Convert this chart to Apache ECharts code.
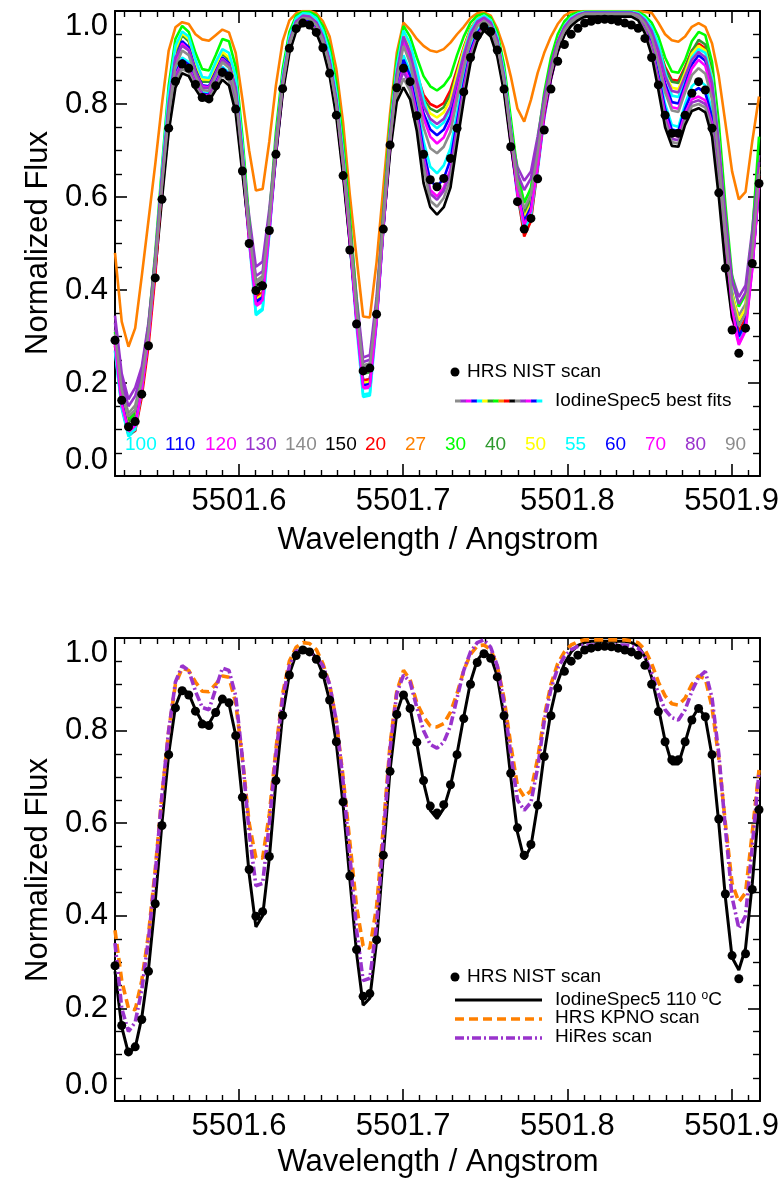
<!DOCTYPE html>
<html>
<head>
<meta charset="utf-8">
<script src="https://cdn.jsdelivr.net/npm/echarts@6/dist/echarts.min.js"></script>
<style>
html,body{margin:0;padding:0;background:#fff;}
#chart{width:782px;height:1186px;}
</style>
</head>
<body>
<div id="chart"></div>
<script>
// ---------------- DATA ----------------
const wavelength = [
5501.5245,5501.5286,5501.5327,5501.5368,5501.5408,5501.5449,5501.5490,5501.5531,5501.5572,5501.5613,
5501.5654,5501.5694,5501.5735,5501.5776,5501.5817,5501.5858,5501.5899,5501.5939,5501.5980,5501.6021,
5501.6062,5501.6103,5501.6144,5501.6185,5501.6225,5501.6266,5501.6307,5501.6348,5501.6389,5501.6430,
5501.6471,5501.6511,5501.6552,5501.6593,5501.6634,5501.6675,5501.6716,5501.6756,5501.6797,5501.6838,
5501.6879,5501.6920,5501.6961,5501.7002,5501.7042,5501.7083,5501.7124,5501.7165,5501.7206,5501.7247,
5501.7288,5501.7328,5501.7369,5501.7410,5501.7451,5501.7492,5501.7533,5501.7573,5501.7614,5501.7655,
5501.7696,5501.7737,5501.7778,5501.7819,5501.7859,5501.7900,5501.7941,5501.7982,5501.8023,5501.8064,
5501.8105,5501.8145,5501.8186,5501.8227,5501.8268,5501.8309,5501.8350,5501.8390,5501.8431,5501.8472,
5501.8513,5501.8554,5501.8595,5501.8636,5501.8676,5501.8717,5501.8758,5501.8799,5501.8840,5501.8881,
5501.8922,5501.8962,5501.9003,5501.9044,5501.9085,5501.9126,5501.9167];

const nistScan = [
.292,.163,.106,.117,.176,.280,.426,.595,.748,.849,
.886,.877,.842,.814,.811,.839,.868,.860,.789,.656,
.500,.399,.409,.528,.692,.833,.920,.962,.974,.970,
.954,.921,.866,.776,.646,.486,.327,.226,.232,.348,
.531,.712,.835,.877,.848,.775,.692,.637,.622,.640,
.683,.748,.826,.900,.947,.966,.956,.916,.832,.708,
.590,.531,.554,.639,.744,.832,.892,.928,.950,.963,
.974,.978,.981,.982,.981,.978,.974,.970,.963,.941,
.900,.841,.776,.737,.737,.776,.823,.848,.830,.748,
.609,.447,.314,.264,.318,.457,.629];

const fit100 = [
.268,.145,.085,.098,.182,.295,.45,.62,.77,.87,
.90,.89,.852,.825,.823,.85,.88,.868,.81,.672,
.505,.346,.357,.52,.69,.832,.922,.968,.982,.979,
.965,.932,.875,.788,.66,.50,.322,.17,.173,.33,
.53,.71,.84,.905,.87,.80,.72,.665,.651,.668,
.705,.78,.858,.922,.958,.973,.961,.92,.842,.722,
.60,.525,.555,.655,.77,.855,.916,.953,.974,.986,
.993,.993,.993,.993,.993,.993,.993,.993,.987,.968,
.933,.87,.80,.755,.751,.80,.838,.852,.84,.785,
.655,.495,.345,.292,.322,.452,.628];
const fit110 = [
.288,.158,.10,.11,.188,.298,.45,.615,.765,.865,
.895,.885,.848,.822,.82,.847,.877,.864,.805,.668,
.51,.372,.382,.528,.692,.83,.92,.966,.98,.977,
.963,.93,.873,.786,.658,.505,.335,.205,.208,.335,
.532,.708,.835,.895,.86,.79,.70,.635,.622,.64,
.68,.762,.845,.915,.953,.97,.958,.917,.839,.72,
.608,.545,.575,.665,.775,.856,.915,.952,.973,.985,
.992,.992,.992,.992,.992,.992,.992,.992,.986,.965,
.928,.862,.79,.745,.742,.79,.825,.834,.824,.772,
.645,.49,.35,.298,.328,.458,.632];
const fit120 = [
.283,.153,.095,.106,.185,.295,.448,.61,.76,.86,
.89,.88,.845,.82,.818,.843,.872,.86,.80,.665,
.505,.365,.375,.525,.69,.828,.918,.964,.978,.975,
.96,.927,.87,.782,.655,.502,.33,.188,.19,.332,
.53,.705,.828,.88,.848,.778,.685,.615,.601,.62,
.66,.748,.835,.908,.948,.967,.955,.913,.835,.716,
.604,.536,.566,.66,.772,.853,.913,.95,.972,.984,
.991,.991,.991,.991,.991,.991,.991,.991,.985,.962,
.922,.853,.778,.733,.73,.78,.81,.816,.808,.758,
.632,.48,.34,.282,.312,.445,.622];
const fit130 = [
.345,.22,.165,.19,.235,.33,.47,.625,.765,.858,
.885,.876,.842,.818,.816,.84,.87,.858,.80,.675,
.56,.45,.461,.575,.71,.838,.92,.964,.977,.974,
.96,.927,.872,.79,.67,.54,.385,.255,.26,.385,
.57,.72,.83,.87,.84,.77,.678,.607,.594,.613,
.652,.742,.83,.904,.946,.965,.953,.913,.838,.735,
.665,.635,.655,.73,.815,.88,.93,.96,.976,.986,
.991,.991,.991,.991,.991,.991,.991,.991,.984,.96,
.918,.848,.77,.725,.722,.772,.803,.808,.80,.752,
.632,.50,.43,.385,.41,.53,.69];
const fit140 = [
.315,.19,.135,.152,.21,.31,.45,.605,.75,.848,
.875,.868,.838,.815,.812,.836,.862,.85,.792,.66,
.53,.42,.43,.55,.70,.83,.915,.96,.975,.971,
.956,.922,.866,.782,.66,.52,.36,.238,.242,.36,
.55,.708,.818,.855,.828,.758,.665,.592,.579,.598,
.638,.73,.82,.897,.94,.962,.95,.908,.832,.722,
.635,.59,.615,.70,.795,.865,.92,.953,.972,.983,
.99,.99,.99,.99,.99,.99,.99,.99,.982,.956,
.912,.84,.762,.718,.715,.765,.795,.80,.792,.742,
.62,.475,.385,.345,.37,.50,.66];
const fit150 = [
.30,.18,.125,.135,.20,.30,.44,.595,.74,.835,
.866,.86,.832,.81,.806,.83,.852,.84,.78,.65,
.52,.41,.418,.54,.69,.822,.91,.956,.972,.968,
.952,.918,.86,.772,.645,.50,.345,.228,.23,.35,
.535,.695,.805,.836,.81,.742,.63,.578,.562,.578,
.62,.715,.808,.888,.934,.958,.945,.902,.825,.712,
.615,.565,.59,.68,.78,.855,.912,.948,.968,.98,
.988,.988,.988,.988,.988,.988,.988,.988,.98,.952,
.905,.83,.75,.71,.708,.755,.785,.791,.782,.73,
.60,.45,.34,.30,.325,.455,.62];
const fit20 = [
.28,.15,.09,.097,.17,.28,.43,.63,.80,.912,
.95,.937,.885,.85,.85,.878,.91,.897,.845,.695,
.515,.385,.395,.535,.71,.85,.94,.982,.993,.992,
.981,.952,.90,.812,.68,.515,.34,.206,.208,.34,
.54,.73,.87,.952,.92,.865,.82,.80,.793,.802,
.83,.875,.922,.962,.983,.99,.979,.943,.865,.742,
.61,.515,.548,.665,.785,.872,.932,.966,.985,.993,
.997,.997,.997,.997,.997,.997,.997,.997,.994,.983,
.962,.925,.88,.852,.85,.88,.915,.93,.92,.862,
.72,.54,.375,.31,.34,.47,.645];
const fit27 = [
.48,.332,.278,.318,.43,.55,.67,.80,.915,.965,
.976,.972,.95,.939,.936,.948,.96,.954,.91,.81,
.70,.614,.617,.72,.84,.935,.98,.995,1.0,1.0,
.995,.978,.945,.875,.76,.605,.47,.343,.341,.46,
.62,.78,.91,.975,.96,.94,.925,.915,.912,.918,
.932,.95,.966,.985,.995,.997,.99,.962,.92,.86,
.79,.762,.809,.867,.91,.945,.972,.99,.998,.999,
1.0,1.0,1.0,1.0,1.0,1.0,1.0,1.0,1.0,.998,
.996,.975,.95,.937,.934,.945,.966,.974,.966,.93,
.86,.76,.655,.595,.611,.72,.816];
const fit30 = [
.31,.18,.12,.135,.215,.325,.48,.665,.84,.94,
.968,.955,.91,.875,.872,.905,.94,.935,.88,.73,
.55,.40,.41,.56,.74,.875,.955,.99,.998,.998,
.99,.968,.925,.845,.72,.56,.38,.225,.228,.37,
.57,.76,.895,.968,.945,.90,.86,.838,.829,.84,
.86,.905,.945,.975,.99,.994,.986,.955,.885,.77,
.655,.587,.62,.72,.825,.90,.95,.978,.992,.997,
.999,.999,.999,.999,.999,.999,.999,.999,.998,.99,
.975,.945,.90,.87,.867,.895,.935,.955,.948,.89,
.76,.585,.43,.364,.39,.52,.73];
const fit40 = [
.30,.175,.115,.128,.205,.315,.465,.64,.805,.91,
.948,.935,.885,.848,.848,.876,.908,.895,.845,.70,
.525,.395,.405,.545,.715,.852,.94,.982,.993,.992,
.981,.952,.90,.815,.685,.525,.355,.22,.223,.35,
.55,.735,.87,.95,.918,.862,.81,.79,.783,.793,
.82,.868,.918,.96,.982,.989,.979,.943,.866,.745,
.625,.565,.595,.69,.80,.88,.935,.967,.985,.993,
.997,.997,.997,.997,.997,.997,.997,.997,.994,.983,
.962,.925,.875,.848,.845,.876,.913,.938,.928,.868,
.73,.555,.395,.33,.358,.49,.665];
const fit50 = [
.295,.165,.105,.118,.195,.305,.46,.645,.815,.918,
.952,.94,.89,.853,.852,.883,.912,.90,.852,.705,
.525,.38,.39,.54,.715,.855,.942,.983,.994,.993,
.982,.955,.905,.82,.69,.525,.345,.20,.203,.345,
.545,.735,.875,.955,.925,.868,.805,.78,.771,.782,
.81,.865,.918,.96,.983,.99,.98,.944,.868,.748,
.625,.555,.585,.68,.795,.878,.935,.968,.986,.994,
.998,.998,.998,.998,.998,.998,.998,.998,.995,.984,
.963,.925,.865,.835,.832,.868,.908,.925,.915,.858,
.722,.545,.39,.335,.36,.49,.665];
const fit55 = [
.27,.148,.088,.10,.185,.30,.46,.655,.825,.925,
.956,.945,.895,.858,.856,.89,.918,.91,.86,.71,
.525,.35,.36,.53,.715,.86,.945,.985,.995,.994,
.984,.958,.91,.825,.695,.525,.34,.175,.178,.34,
.54,.74,.88,.958,.93,.875,.81,.76,.748,.76,
.79,.85,.91,.958,.982,.99,.98,.945,.87,.75,
.615,.53,.56,.67,.79,.875,.935,.968,.986,.994,
.998,.998,.998,.998,.998,.998,.998,.998,.995,.985,
.965,.93,.87,.818,.815,.855,.90,.918,.91,.855,
.72,.54,.38,.295,.325,.455,.63];
const fit60 = [
.29,.16,.10,.112,.19,.30,.455,.635,.79,.895,
.935,.922,.872,.84,.838,.868,.90,.888,.83,.69,
.52,.375,.385,.535,.705,.845,.932,.976,.988,.986,
.974,.943,.89,.805,.675,.515,.34,.195,.198,.34,
.54,.725,.86,.94,.905,.84,.78,.745,.733,.745,
.775,.835,.895,.946,.974,.984,.973,.935,.856,.738,
.62,.548,.578,.675,.79,.87,.928,.962,.981,.991,
.996,.996,.996,.996,.996,.996,.996,.996,.992,.978,
.953,.905,.845,.804,.801,.842,.885,.905,.893,.835,
.70,.53,.37,.30,.33,.46,.635];
const fit70 = [
.285,.155,.097,.108,.186,.296,.45,.63,.785,.89,
.93,.917,.868,.838,.836,.865,.897,.884,.825,.685,
.515,.368,.378,.53,.70,.84,.93,.975,.987,.985,
.972,.94,.886,.80,.67,.51,.335,.19,.193,.335,
.535,.72,.855,.935,.898,.832,.77,.73,.715,.728,
.76,.825,.888,.942,.971,.982,.97,.932,.852,.733,
.612,.54,.57,.67,.785,.865,.925,.96,.98,.99,
.995,.995,.995,.995,.995,.995,.995,.995,.991,.976,
.948,.898,.835,.793,.79,.834,.876,.895,.882,.825,
.69,.52,.36,.285,.315,.447,.625];
const fit80 = [
.33,.205,.15,.172,.225,.325,.47,.645,.80,.90,
.925,.915,.87,.835,.834,.865,.895,.885,.835,.695,
.54,.43,.44,.56,.72,.85,.935,.978,.99,.988,
.976,.946,.893,.81,.685,.535,.37,.245,.25,.37,
.56,.735,.865,.945,.91,.85,.795,.768,.757,.768,
.795,.85,.905,.952,.977,.986,.975,.938,.86,.745,
.65,.615,.64,.72,.815,.885,.935,.966,.983,.992,
.996,.996,.996,.996,.996,.996,.996,.996,.993,.98,
.957,.915,.86,.828,.825,.86,.895,.912,.90,.845,
.715,.56,.42,.37,.395,.515,.675];
const fit90 = [
.305,.185,.128,.142,.205,.31,.455,.625,.78,.88,
.915,.905,.86,.83,.828,.858,.89,.878,.82,.68,
.525,.415,.425,.55,.705,.84,.928,.972,.985,.983,
.97,.937,.882,.798,.672,.525,.36,.232,.236,.36,
.55,.72,.85,.925,.888,.82,.75,.705,.694,.708,
.74,.81,.878,.936,.967,.979,.967,.928,.85,.735,
.63,.575,.605,.695,.795,.868,.925,.958,.978,.988,
.994,.994,.994,.994,.994,.994,.994,.994,.99,.973,
.943,.888,.825,.786,.783,.825,.862,.877,.865,.81,
.68,.525,.38,.322,.35,.48,.65];

const spec110 = [
.28,.16,.103,.115,.18,.285,.43,.60,.75,.852,
.891,.88,.845,.818,.815,.84,.868,.858,.79,.65,
.49,.376,.40,.525,.69,.835,.922,.965,.978,.974,
.957,.922,.865,.772,.64,.48,.32,.207,.222,.345,
.53,.715,.838,.882,.85,.772,.688,.628,.61,.632,
.68,.75,.83,.905,.952,.97,.96,.918,.83,.70,
.58,.522,.55,.64,.75,.842,.905,.945,.97,.984,
.99,.993,.993,.993,.993,.993,.993,.99,.983,.96,
.915,.85,.778,.728,.728,.775,.825,.85,.828,.745,
.60,.44,.31,.283,.33,.47,.64];
const kpnoScan = [
.369,.26,.20,.197,.26,.36,.50,.66,.80,.90,
.935,.93,.905,.885,.884,.90,.918,.915,.86,.74,
.60,.525,.525,.62,.76,.88,.95,.98,.99,.988,
.975,.945,.90,.82,.70,.56,.42,.335,.33,.42,
.59,.77,.885,.93,.91,.86,.83,.81,.808,.815,
.84,.88,.93,.965,.983,.985,.975,.94,.87,.77,
.68,.657,.67,.74,.83,.90,.945,.97,.985,.992,
.996,.996,.996,.996,.996,.996,.996,.994,.99,.975,
.945,.905,.875,.858,.855,.87,.90,.918,.912,.85,
.74,.60,.47,.43,.45,.58,.715];
const hiresScan = [
.341,.20,.15,.17,.24,.35,.49,.66,.80,.905,
.94,.93,.885,.85,.845,.89,.935,.93,.875,.74,
.58,.465,.47,.60,.75,.87,.94,.972,.975,.97,
.96,.94,.90,.82,.69,.53,.37,.26,.265,.38,
.57,.76,.88,.92,.905,.85,.80,.77,.762,.775,
.81,.87,.93,.97,.99,.996,.98,.94,.86,.75,
.65,.628,.645,.72,.82,.89,.935,.96,.975,.982,
.985,.985,.985,.985,.985,.985,.985,.983,.978,.96,
.925,.88,.845,.828,.823,.845,.885,.915,.928,.87,
.75,.59,.44,.373,.40,.55,.71];

const fitLabels = ['100','110','120','130','140','150','20','27','30','40','50','55','60','70','80','90'];
const xTickValues = [5501.6, 5501.7, 5501.8, 5501.9];
const xMinorTickValues = [5501.53,5501.54,5501.55,5501.56,5501.57,5501.58,5501.59,
  5501.61,5501.62,5501.63,5501.64,5501.65,5501.66,5501.67,5501.68,5501.69,
  5501.71,5501.72,5501.73,5501.74,5501.75,5501.76,5501.77,5501.78,5501.79,
  5501.81,5501.82,5501.83,5501.84,5501.85,5501.86,5501.87,5501.88,5501.89,5501.91];

// ---------------- STYLE ----------------
const FONT = '"Liberation Sans", Arial, Helvetica, sans-serif';
const fitArrays = [fit100,fit110,fit120,fit130,fit140,fit150,fit20,fit27,fit30,fit40,fit50,fit55,fit60,fit70,fit80,fit90];
const CYAN='#00FFFF', BLUE='#0000FF', MAG='#FF00FF', PURP='#9933CC', GRAY='#8C8C8C', BLK='#000000',
      RED='#FF0000', ORNG='#FF8000', GRN='#00FF00', DGRN='#2E9A2E', YEL='#FFFF00';
const fitColors = [CYAN,BLUE,MAG,PURP,GRAY,BLK,RED,ORNG,GRN,DGRN,YEL,CYAN,BLUE,MAG,PURP,GRAY];

const X_MIN = 5501.5245, X_MAX = 5501.9173;
const pairs = arr => wavelength.map((w,i) => [w, arr[i]]);

const grids = [
  {left:115, top:11, width:646, height:465},
  {left:115, top:638, width:646, height:463}
];

function xAxesFor(g){
  const base = {gridIndex:g, type:'value', min:X_MIN, max:X_MAX, splitLine:{show:false}};
  const line = {show:true, onZero:false, lineStyle:{color:'#000', width:2}};
  return [
    Object.assign({}, base, {position:'bottom', axisLine:line,
      axisTick:{show:true, inside:true, length:12, customValues:xTickValues, lineStyle:{color:'#000', width:1.6}},
      axisLabel:{show:true, customValues:xTickValues, formatter:v=>Number(v).toFixed(1), fontSize:31, color:'#000', fontFamily:FONT, margin:10}}),
    Object.assign({}, base, {position:'bottom', axisLine:{show:false, onZero:false},
      axisTick:{show:true, inside:true, length:6, customValues:xMinorTickValues, lineStyle:{color:'#000', width:1.4}},
      axisLabel:{show:false}}),
    Object.assign({}, base, {position:'top', axisLine:line,
      axisTick:{show:true, inside:true, length:12, customValues:xTickValues, lineStyle:{color:'#000', width:1.6}},
      axisLabel:{show:false}}),
    Object.assign({}, base, {position:'top', axisLine:{show:false, onZero:false},
      axisTick:{show:true, inside:true, length:6, customValues:xMinorTickValues, lineStyle:{color:'#000', width:1.4}},
      axisLabel:{show:false}})
  ];
}
function yAxesFor(g){
  const base = {gridIndex:g, type:'value', min:0, max:1, interval:0.2, splitLine:{show:false},
    axisLine:{show:true, onZero:false, lineStyle:{color:'#000', width:2}},
    axisTick:{show:true, inside:true, length:12, lineStyle:{color:'#000', width:1.6}},
    minorTick:{show:true, splitNumber:4, length:7, lineStyle:{color:'#000', width:1.4}}};
  return [
    Object.assign({}, base, {position:'left',
      axisLabel:{show:true, formatter:v=>Number(v).toFixed(1), fontSize:31, color:'#000', fontFamily:FONT, margin:7,
        verticalAlignMinLabel:'bottom', verticalAlignMaxLabel:'top'}}),
    Object.assign({}, base, {position:'right', axisLabel:{show:false}})
  ];
}

const series = [];
fitArrays.forEach((arr, k) => {
  series.push({name:'fit'+fitLabels[k], type:'line', xAxisIndex:0, yAxisIndex:0, data:pairs(arr),
    symbol:'none', showSymbol:false, animation:false, z:2,
    lineStyle:{color:fitColors[k], width:2.6}, itemStyle:{color:fitColors[k]}});
});
series.push({name:'HRS NIST scan', type:'scatter', xAxisIndex:0, yAxisIndex:0, data:pairs(nistScan),
  symbol:'circle', symbolSize:9, itemStyle:{color:'#000', opacity:1}, animation:false, z:5});

series.push({name:'HRS NIST scan (2)', type:'scatter', xAxisIndex:4, yAxisIndex:2, data:pairs(nistScan),
  symbol:'circle', symbolSize:9, itemStyle:{color:'#000', opacity:1}, animation:false, z:5});
series.push({name:'IodineSpec5 110', type:'line', xAxisIndex:4, yAxisIndex:2, data:pairs(spec110),
  symbol:'none', animation:false, z:3, lineStyle:{color:'#000', width:3}});
series.push({name:'HRS KPNO scan', type:'line', xAxisIndex:4, yAxisIndex:2, data:pairs(kpnoScan),
  symbol:'none', animation:false, z:3, lineStyle:{color:ORNG, width:3.6, type:[9,5]}});
series.push({name:'HiRes scan', type:'line', xAxisIndex:4, yAxisIndex:2, data:pairs(hiresScan),
  symbol:'none', animation:false, z:4, lineStyle:{color:PURP, width:3.6, type:[9,3,2,3]}});

// ---------------- GRAPHIC (titles, legends, labels) ----------------
const graphics = [];
function txt(x, y, s, size, color, opts){
  const baseStyle = {text:s, fill:color||'#000', font:size+'px '+FONT, fontSize:size, fontFamily:FONT,
      textAlign:'left', align:'left', textVerticalAlign:'middle', verticalAlign:'middle'};
  const o = Object.assign({type:'text', x:x, y:y, z:50, silent:true}, opts||{});
  o.style = Object.assign(baseStyle, (opts && opts.style) || {});
  graphics.push(o);
}
// axis titles
[243, 870].forEach(cy => txt(38, cy, 'Normalized Flux', 31, '#000', {rotation:Math.PI/2, style:{textAlign:'center', align:'center'}}));
[540, 1162].forEach(cy => txt(438, cy, 'Wavelength / Angstrom', 31, '#000', {style:{textAlign:'center', align:'center'}}));

// temperature labels
fitLabels.forEach((lab, k) => txt(125 + 40*k, 445, lab, 19, fitColors[k]));

// top legend
graphics.push({type:'circle', z:50, silent:true, shape:{cx:455, cy:372, r:4.5}, style:{fill:'#000'}});
txt(467, 372, 'HRS NIST scan', 19, '#000');
const segColors = [GRAY,PURP,MAG,BLUE,CYAN,YEL,DGRN,GRN,ORNG,RED,BLK,GRAY,PURP,MAG,BLUE,CYAN];
const segW = 87/segColors.length;
segColors.forEach((c, k) => graphics.push({type:'rect', z:50, silent:true,
  shape:{x:455 + k*segW, y:399.5, width:segW+0.3, height:3}, style:{fill:c}}));
txt(555, 401, 'IodineSpec5 best fits', 19, '#000');

// bottom legend
graphics.push({type:'circle', z:50, silent:true, shape:{cx:455, cy:977, r:4.5}, style:{fill:'#000'}});
txt(467, 977, 'HRS NIST scan', 19, '#000');
graphics.push({type:'line', z:50, silent:true, shape:{x1:455, y1:1000, x2:542, y2:1000}, style:{stroke:'#000', lineWidth:3}});
graphics.push({type:'text', x:555, y:1000, z:50, silent:true,
  style:{text:'IodineSpec5 110 {s|o}C', fill:'#000', font:'19px '+FONT, fontSize:19, fontFamily:FONT,
    textVerticalAlign:'middle', verticalAlign:'middle',
    rich:{s:{fontSize:12, fontFamily:FONT, fill:'#000', verticalAlign:'top', padding:[0,0,9,0]}}}});
graphics.push({type:'line', z:50, silent:true, shape:{x1:455, y1:1019, x2:542, y2:1019}, style:{stroke:ORNG, lineWidth:3.6, lineDash:[9,5]}});
txt(555, 1018, 'HRS KPNO scan', 19, '#000');
graphics.push({type:'line', z:50, silent:true, shape:{x1:455, y1:1038, x2:542, y2:1038}, style:{stroke:PURP, lineWidth:3.6, lineDash:[9,3,2,3]}});
txt(555, 1037, 'HiRes scan', 19, '#000');

const chart = echarts.init(document.getElementById('chart'), null, {renderer:'canvas', width:782, height:1186});
chart.setOption({
  backgroundColor:'#fff',
  animation:false,
  textStyle:{fontFamily:FONT},
  grid:grids,
  xAxis:[].concat(xAxesFor(0), xAxesFor(1)),
  yAxis:[].concat(yAxesFor(0), yAxesFor(1)),
  series:series,
  graphic:{elements:graphics}
});
</script>
</body>
</html>
